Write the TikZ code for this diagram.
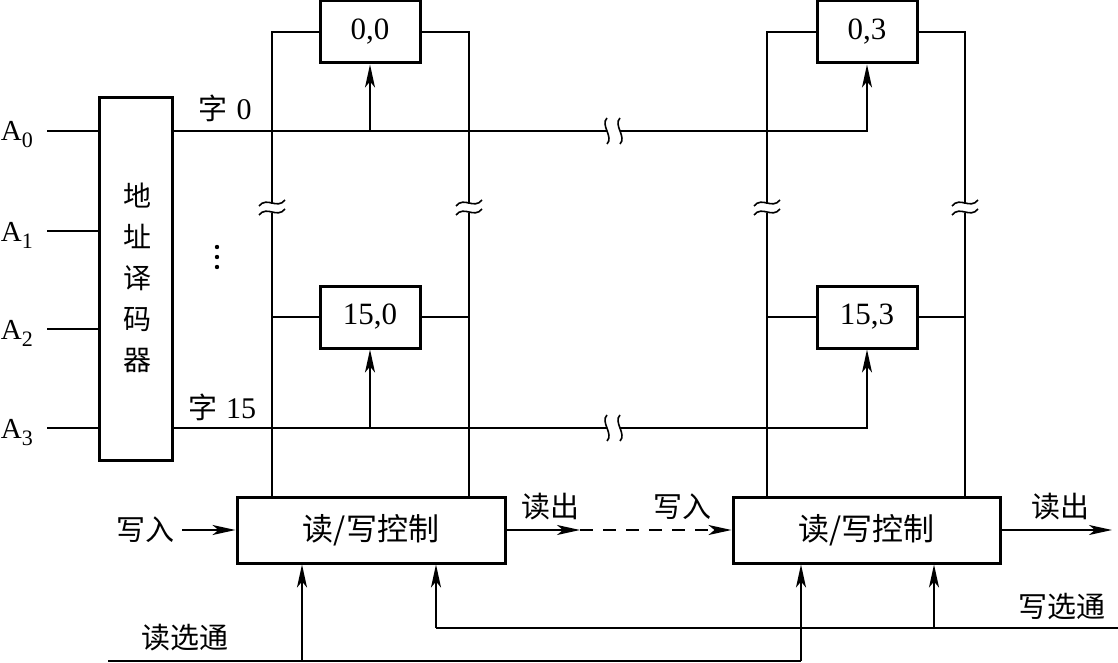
\documentclass[tikz,border=0pt]{standalone}
\usepackage{fontspec}
\setmainfont{Liberation Serif}
\newfontfamily\cjk{Noto Sans CJK SC}
\usetikzlibrary{arrows.meta}
\newcommand{\Asub}[1]{A\raisebox{-7pt}{\fontsize{22}{22}\selectfont #1}}
\begin{document}
\begin{tikzpicture}[x=1pt,y=-1pt, line width=2pt, line cap=butt,
  >={Stealth[length=23pt,width=10pt,inset=6pt]},
  cell/.style={draw, line width=3pt, minimum width=100pt, minimum height=62pt, inner sep=0pt, font=\fontsize{31}{31}\selectfont},
  ctrl/.style={draw, line width=3pt, minimum width=268pt, minimum height=66pt, inner sep=0pt, font=\cjk\fontsize{31}{31}\selectfont},
  lbl/.style={font=\cjk\fontsize{29}{29}\selectfont, inner sep=0pt},
  alabel/.style={font=\fontsize{29}{29}\selectfont, inner sep=0pt, anchor=base west},
  brk/.style={line width=1.6pt}
]
\useasboundingbox (0,0) rectangle (1118,663);

% decoder
\node[draw, line width=3pt, minimum width=73pt, minimum height=363pt, inner sep=0pt] (dec) at (135.5,279) {};
\node[font=\cjk\fontsize{28}{41}\selectfont, align=center, inner sep=0pt] (dectext) at (137,278) {地\\址\\译\\码\\器};

% address inputs
\foreach \i/\y in {0/131,1/231,2/329,3/428}{
  \node[alabel] (A\i) at (0,\y+10) {\Asub{\i}};
  \coordinate (ain\i) at (47,\y);
  \draw (ain\i) -- (ain\i -| dec.west);
}

% memory cells
\node[cell] (c00) at (370,32) {0,0};
\node[cell] (c03) at (867,32) {0,3};
\node[cell] (c150) at (370,317) {15,0};
\node[cell] (c153) at (867,317) {15,3};

% read/write control
\node[ctrl] (rw0) at (371,530) {读/写控制};
\node[ctrl, minimum width=267pt] (rw1) at (866.5,530) {读/写控制};

% word labels
\node[font=\cjk\fontsize{29}{29}\selectfont, inner sep=0pt] (w0) at (225,108) {字\hspace{9pt}\fontspec{Liberation Serif}\fontsize{30}{30}\selectfont 0};
\node[font=\cjk\fontsize{29}{29}\selectfont, inner sep=0pt] (w15) at (222,407) {字\hspace{9pt}\fontspec{Liberation Serif}\fontsize{30}{30}\selectfont 15};

% word lines
\foreach \y/\a/\b in {131/c00/c03, 428/c150/c153}{
  \coordinate (wl) at (dec.east |- 0,\y);
  \draw (wl) -- (607,\y);
  \draw[->] (620,\y) -| (\b.south);
  \draw[->] (\a.south |- 0,\y) -- (\a.south);
  \draw[brk] (607,\y-13) .. controls (600,\y-6) and (614,\y+6) .. (607,\y+13);
  \draw[brk] (620,\y-13) .. controls (613,\y-6) and (627,\y+6) .. (620,\y+13);
}

% dots
\foreach \y in {247,257,267} \fill (217,\y) circle (2.2pt);

% bit lines
\foreach \x/\top/\mid/\side/\rw in {272/c00/c150/west/rw0, 469/c00/c150/east/rw0, 767/c03/c153/west/rw1, 965/c03/c153/east/rw1}{
  \draw (\top.\side) -- (\x,32) -- (\x,204);
  \draw (\x,213) -- (\x,0 |- \rw.north);
  \draw (\mid.\side) -- (\x,317);
  \draw[brk] (\x-13,206) .. controls (\x-5,196) and (\x+5,210) .. (\x+13,200);
  \draw[brk] (\x-13,215) .. controls (\x-5,205) and (\x+5,219) .. (\x+13,209);
}

% data in/out
\node[lbl] (win0) at (145,530) {写入};
\draw[->] (182,530) -- (rw0.west);
\node[lbl] (rout0) at (550,507) {读出};
\coordinate (mid) at (580,530);
\draw[->] (rw0.east) -- (mid);
\draw[->, dash pattern=on 13pt off 10pt] (mid) -- (rw1.west);
\node[lbl] (win1) at (682,507) {写入};
\node[lbl] (rout1) at (1060,507) {读出};
\draw[->] (rw1.east) -- (1112,530);

% strobes
\node[lbl] (rs) at (185,638) {读选通};
\node[lbl] (ws) at (1062,607) {写选通};
\coordinate (rsl) at (108,661);
\coordinate (rsr) at (801,661);
\coordinate (wsl) at (436,628);
\coordinate (wsr) at (1118,628);
\draw (rsl) -- (rsr);
\draw[->] (302,661) -- (302,0 |- rw0.south);
\draw[->] (rsr) -- (801,0 |- rw1.south);
\draw (wsl) -- (wsr);
\draw[->] (wsl) -- (436,0 |- rw0.south);
\draw[->] (934,628) -- (934,0 |- rw1.south);
\end{tikzpicture}
\end{document}
